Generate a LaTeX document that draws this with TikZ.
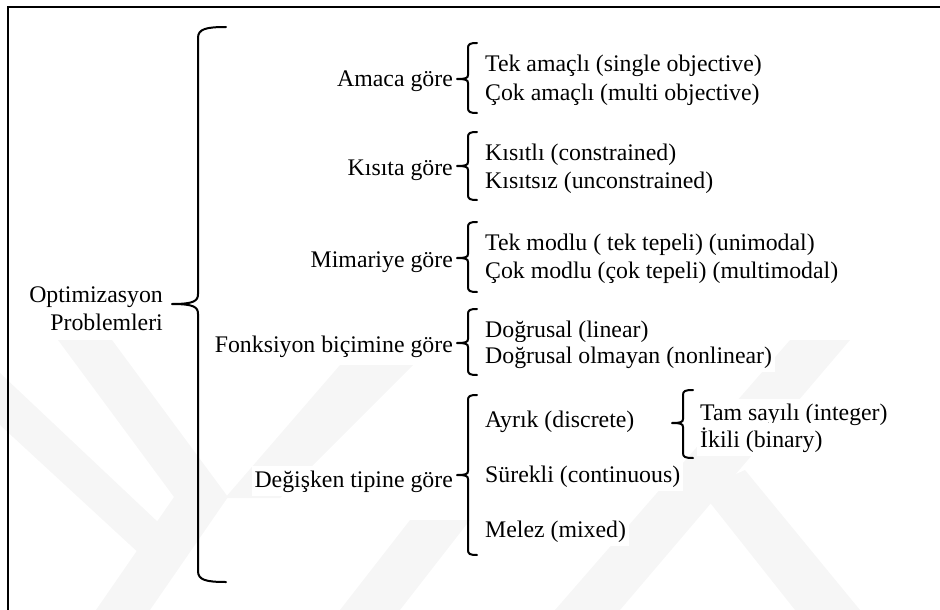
\documentclass[tikz,border=0pt]{standalone}
\usepackage{fontspec}
\setmainfont{Liberation Serif}
% curly bracket: vertical x, top y, tip y, bottom y, tip x, end x
\newcommand{\drawcurly}[6]{%
  \draw[bracepath] (#6,#2) .. controls ({#1+2},#2) and (#1,{#2+1}) .. (#1,{#2+5})
    -- (#1,{#3-4}) .. controls (#1,{#3-1}) and ({#1-2},#3) .. (#5,#3)
    .. controls ({#1-2},#3) and (#1,{#3+1}) .. (#1,{#3+4})
    -- (#1,{#4-5}) .. controls (#1,{#4-1}) and ({#1+2},#4) .. (#6,#4);}
\begin{document}
\begin{tikzpicture}[x=1pt,y=-1pt,
  lbl/.style={font=\fontsize{23.8}{28}\selectfont, inner xsep=3pt, inner ysep=4pt, fill=white},
  cat/.style={lbl, anchor=base east},
  item/.style={lbl, anchor=base west},
  bracepath/.style={line width=2pt, line join=round, line cap=round},
  wm/.style={fill=black!3.5, draw=none}]
\useasboundingbox (0,0) rectangle (940,610);

% faint background emblem
\fill[wm] (58,340) -- (112,340) -- (228,497) -- (150,610) -- (96,610) -- (174,497) -- cycle;
\fill[wm] (0,373) -- (177,540) -- (155,568) -- (0,425) -- cycle;
\fill[wm] (340,365) -- (413,365) -- (280,498) -- (225,498) -- cycle;
\fill[wm] (340,610) -- (400,610) -- (470,520) -- (410,520) -- cycle;
\fill[wm] (555,610) -- (620,610) -- (850,340) -- (790,340) -- cycle;
\fill[wm] (700,490) -- (745,470) -- (860,610) -- (795,610) -- cycle;

% frame
\draw[line width=2pt] (8,610) -- (8,7.5) -- (940,7.5);

% root
\node[lbl, anchor=base east] (opt) at (166,302) {Optimizasyon};
\node[lbl, anchor=base east] (prob) at (166,330) {Problemleri};

% categories
\node[cat] (amac) at (456,87) {Amaca göre};
\node[cat] (kisit) at (456,175) {Kısıta göre};
\node[cat] (mimari) at (456,267) {Mimariye göre};
\node[cat] (fonk) at (456,352) {Fonksiyon biçimine göre};
\node[cat] (degis) at (456,487) {Değişken tipine göre};

% leaves
\node[item] (tek) at (482,72) {Tek amaçlı (single objective)};
\node[item] (cok) at (482,100) {Çok amaçlı (multi objective)};
\node[item] (kli) at (482,160) {Kısıtlı (constrained)};
\node[item] (ksiz) at (482,188) {Kısıtsız (unconstrained)};
\node[item] (uni) at (482,250) {Tek modlu ( tek tepeli) (unimodal)};
\node[item] (multi) at (482,278) {Çok modlu (çok tepeli) (multimodal)};
\node[item] (lin) at (482,337) {Doğrusal (linear)};
\node[item] (nonlin) at (482,363) {Doğrusal olmayan (nonlinear)};
\node[item] (ayrik) at (482,427) {Ayrık (discrete)};
\node[item] (surek) at (482,482) {Sürekli (continuous)};
\node[item] (melez) at (482,537) {Melez (mixed)};
\node[item] (tam) at (697,420) {Tam sayılı (integer)};
\node[item] (ikili) at (697,447) {İkili (binary)};

% main bracket
\draw[bracepath] (226,27) .. controls (206,27) and (198,29) .. (198,38)
  -- (198,294) .. controls (198,301) and (194,304) .. (172,304)
  .. controls (194,304) and (198,307) .. (198,314)
  -- (198,571) .. controls (198,580) and (206,582) .. (226,582);

% group brackets
\drawcurly{468}{43}{79}{113}{457}{477}
\drawcurly{468}{132}{166}{200}{457}{477}
\drawcurly{468}{222}{258}{292}{457}{477}
\drawcurly{468}{309}{343}{375}{457}{477}
\drawcurly{468}{395}{475}{555}{457}{477}
\drawcurly{683}{390}{423}{458}{672}{693}
\end{tikzpicture}
\end{document}
